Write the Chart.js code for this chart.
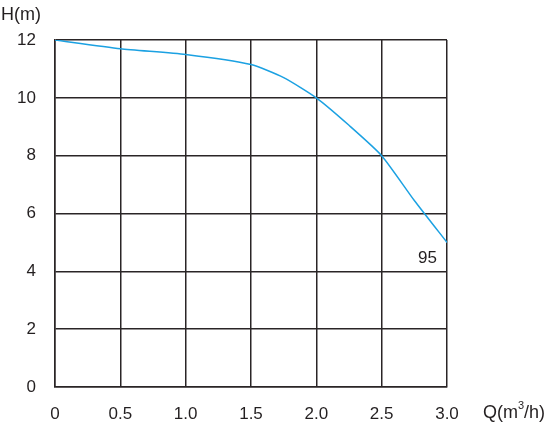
<!DOCTYPE html>
<html>
<head>
<meta charset="utf-8">
<script src="https://cdn.jsdelivr.net/npm/chart.js@4.4.0/dist/chart.umd.min.js"></script>
<style>
  html, body { margin: 0; padding: 0; background: #ffffff; }
  #wrap { width: 555px; height: 425px; }
</style>
</head>
<body>
<div id="wrap"><canvas id="pumpChart"></canvas></div>
<script>
// flow (m3/h) and head (m)
const flow = [0, 0.5, 1.0, 1.5, 1.75, 2.0, 2.25, 2.5, 2.75, 3.0]
const head = [12, 11.7, 11.5, 11.15, 10.7, 10, 9.05, 8, 6.45, 5]
const xTickLabels = ['0', '0.5', '1.0', '1.5', '2.0', '2.5', '3.0']
const yTickLabels = ['0', '2', '4', '6', '8', '10', '12']
const curveName = '95'

const gridColor = '#2a2526'
const font = { family: 'Liberation Sans, Arial, sans-serif', size: 17 }

// extra labels: axis titles and curve name
const labelsPlugin = {
    id: 'labels',
    afterDraw(chart) {
        const ctx = chart.ctx
        const x = chart.scales.x
        const y = chart.scales.y
        ctx.save()
        ctx.fillStyle = '#231f20'
        ctx.font = '18px Liberation Sans, Arial, sans-serif'
        ctx.textBaseline = 'alphabetic'
        ctx.textAlign = 'left'
        ctx.fillText('H(m)', 1, 20)
        ctx.fillText('Q(m', 483, 418)
        const w = ctx.measureText('Q(m').width
        ctx.font = '11px Liberation Sans, Arial, sans-serif'
        ctx.fillText('3', 483 + w, 409)
        const w3 = ctx.measureText('3').width
        ctx.font = '18px Liberation Sans, Arial, sans-serif'
        ctx.fillText('/h)', 483 + w + w3, 418)
        // curve name near the end of the line
        ctx.font = '17px Liberation Sans, Arial, sans-serif'
        ctx.textAlign = 'center'
        ctx.fillText(curveName, x.getPixelForValue(2.85), y.getPixelForValue(4.5) + 6)
        ctx.restore()
    }
}

const ctx = document.getElementById('pumpChart').getContext('2d')
const pumpChart = new Chart(ctx, {
    type: 'line',
    data: {
        datasets: [{
            label: curveName,
            data: flow.map((q, i) => ({ x: q, y: head[i] })),
            borderColor: '#1ba1e2',
            borderWidth: 1.5,
            pointRadius: 0,
            fill: false,
            tension: 0.2,
        }]
    },
    options: {
        responsive: true,
        maintainAspectRatio: false,
        animation: false,
        layout: { padding: { top: 40, right: 108, left: 0, bottom: 0 } },
        scales: {
            x: {
                type: 'linear',
                min: 0,
                max: 3,
                afterFit(scale) { scale.height = 38 },
                afterBuildTicks(scale) {
                    scale.ticks = xTickLabels.map(v => ({ value: parseFloat(v) }))
                },
                grid: { color: gridColor, lineWidth: 1.5, drawTicks: false },
                border: { color: gridColor, width: 1.5 },
                ticks: {
                    color: '#231f20',
                    font: font,
                    padding: 17,
                    maxRotation: 0,
                    callback: (v, i) => xTickLabels[i]
                }
            },
            y: {
                min: 0,
                max: 12,
                afterFit(scale) { scale.width = 55 },
                afterBuildTicks(scale) {
                    scale.ticks = yTickLabels.map(v => ({ value: parseFloat(v) }))
                },
                grid: { color: gridColor, lineWidth: 1.5, drawTicks: false },
                border: { color: gridColor, width: 1.5 },
                ticks: {
                    color: '#231f20',
                    font: font,
                    padding: 19,
                    callback: (v, i) => yTickLabels[i]
                }
            }
        },
        plugins: {
            legend: { display: false },
            tooltip: { enabled: false }
        }
    },
    plugins: [labelsPlugin]
})
</script>
</body>
</html>
